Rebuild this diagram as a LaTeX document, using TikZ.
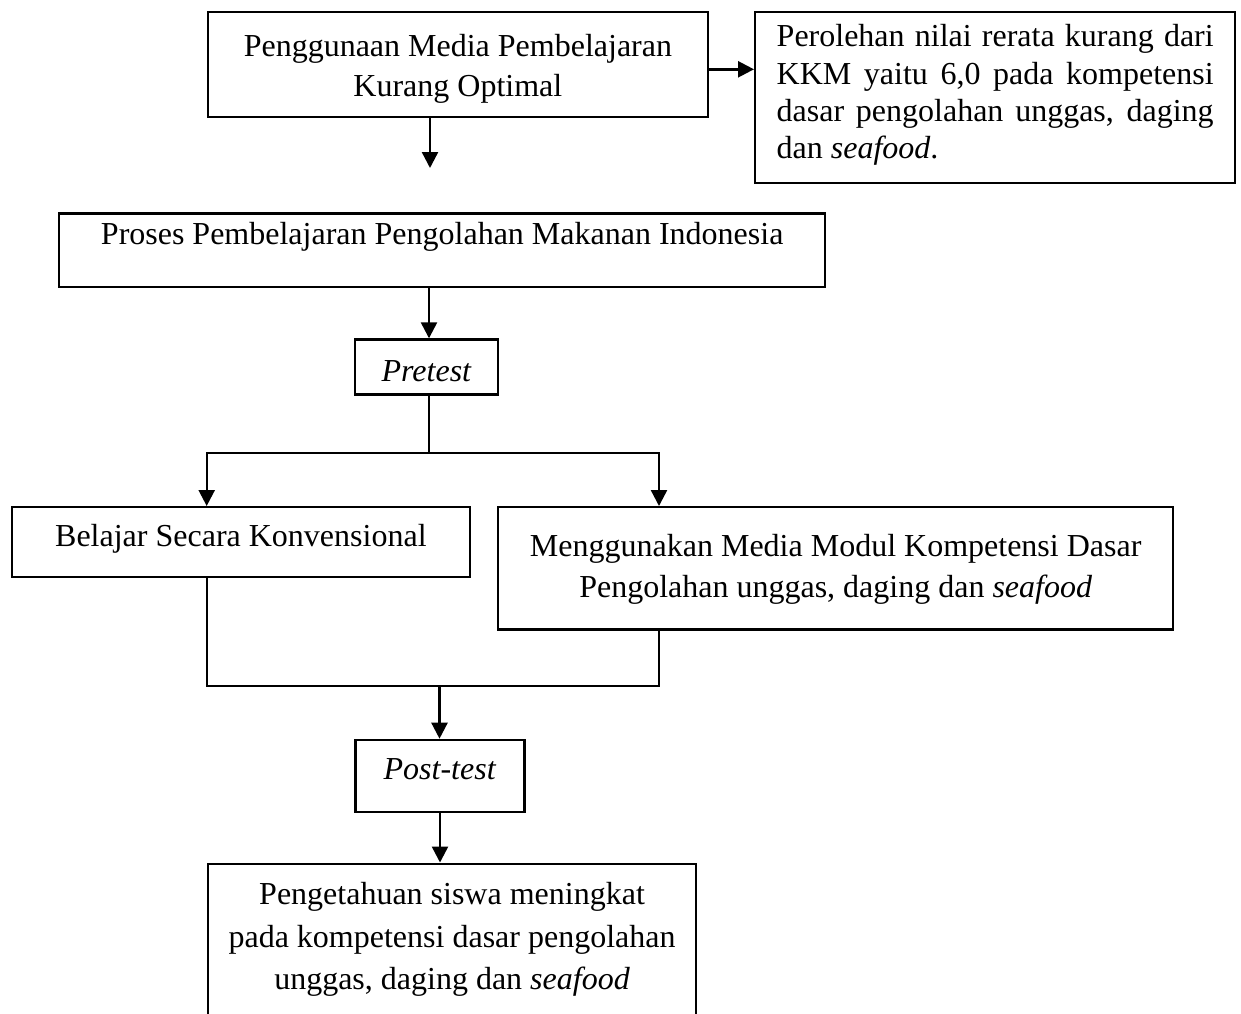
\documentclass[tikz,border=0pt]{standalone}
\usepackage{fontspec}
\setmainfont{Liberation Serif}
\usetikzlibrary{arrows.meta}
\tikzset{
  box/.style={draw, line width=2.4pt, inner sep=0pt, anchor=north west},
  conn/.style={line width=2.4pt},
  arr/.style={line width=2.4pt, -{Triangle[length=16pt,width=16pt]}}
}
\newcommand\bigtxt[1]{\fontsize{32}{#1}\selectfont}
\begin{document}
\begin{tikzpicture}[x=1pt,y=-1pt]
\useasboundingbox (0,0) rectangle (1241,1013);
\clip (0,0) rectangle (1241,1013);
\fill[white] (0,0) rectangle (1241,1013);

% boxes
\node[box] (b1) at (206.7,10.7) {\parbox[c][105pt][t]{500pt}{\bigtxt{40}\centering\rule{0pt}{44.5pt}Penggunaan Media Pembelajaran\\Kurang Optimal}};
\node[box] (b2) at (754,10.7) {\parbox[c][171pt][t]{480pt}{\bigtxt{37.1}\centering
\rule{0pt}{35pt}\makebox[437pt][s]{Perolehan nilai rerata kurang dari}\\
\makebox[437pt][s]{KKM yaitu 6,0 pada kompetensi}\\
\makebox[437pt][s]{dasar pengolahan unggas, daging}\\
\makebox[437pt][l]{dan \textit{seafood}.}}};
\node[box] (b3) at (58,212.3) {\parbox[c][73.7pt][t]{766pt}{\bigtxt{40}\centering\rule{0pt}{31pt}Proses Pembelajaran Pengolahan Makanan Indonesia}};
\node[box] (pre) at (354,338.3) {\parbox[c][55pt][t]{143pt}{\bigtxt{40}\centering\rule{0pt}{41.7pt}\textit{Pretest}}};
\node[box] (b4) at (10.7,506) {\parbox[c][70pt][t]{458pt}{\bigtxt{40}\centering\rule{0pt}{39.7pt}Belajar Secara Konvensional}};
\node[box] (b5) at (497,506) {\parbox[c][122.3pt][t]{675pt}{\bigtxt{41}\centering\rule{0pt}{49pt}Menggunakan Media Modul Kompetensi Dasar\\Pengolahan unggas, daging dan \textit{seafood}}};
\node[box] (post) at (354.3,738.7) {\parbox[c][72pt][t]{169pt}{\bigtxt{40}\centering\rule{0pt}{39.6pt}\textit{Post-test}}};
\node[box] (fin) at (206.7,862.5) {\parbox[c][167.5pt][t]{488.3pt}{\bigtxt{42.5}\centering\rule{0pt}{40.8pt}Pengetahuan siswa meningkat\\pada kompetensi dasar pengolahan\\unggas, daging dan \textit{seafood}}};

% helper coordinates
\coordinate (a1) at (430,168);
\coordinate (r1) at (0,69.3);
\coordinate (x429) at (429,0);
\coordinate (j1) at (429,452.7);
\coordinate (xl) at (206.7,0);
\coordinate (xr) at (659,0);
\coordinate (j2) at (439.5,686);

% connectors
\draw[arr] (b1.south -| a1) -- (a1);
\draw[arr] (b1.east |- r1) -- (b2.west |- r1);
\draw[arr] (b3.south -| x429) -- (pre.north -| x429);
\draw[conn] (pre.south -| x429) -- (j1);
\draw[arr] (j1) -| (b4.north -| xl);
\draw[arr] (j1) -| (b5.north -| xr);
\draw[conn] (b4.south -| xl) |- (j2) -| (b5.south -| xr);
\draw[arr] (j2) -- (post.north -| j2);
\draw[arr] (post.south) -- (fin.north -| post.south);
\end{tikzpicture}
\end{document}
